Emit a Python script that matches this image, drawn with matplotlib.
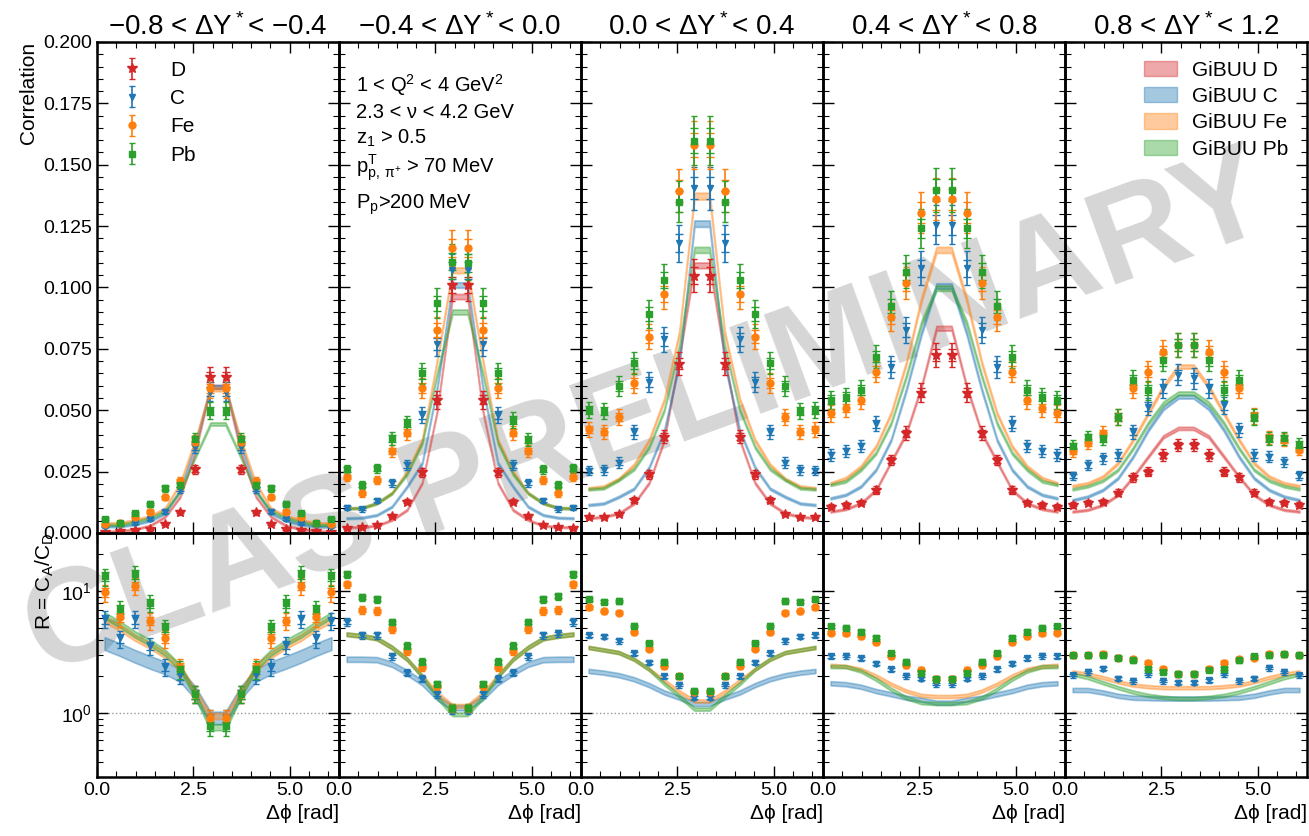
import numpy as np
import matplotlib
matplotlib.use("Agg")
import matplotlib.pyplot as plt
from matplotlib.patches import Patch
from matplotlib.ticker import MultipleLocator, FormatStrFormatter, LogLocator

plt.rcParams['font.family'] = ['Liberation Sans', 'DejaVu Sans']
plt.rcParams['mathtext.default'] = 'regular'

# ---- data ----
titles = ["−0.8 < ΔY$^*$< −0.4", "−0.4 < ΔY$^*$< 0.0", "0.0 < ΔY$^*$< 0.4",
          "0.4 < ΔY$^*$< 0.8", "0.8 < ΔY$^*$< 1.2"]
species = ["D", "C", "Fe", "Pb"]
colors = {"D": "#d62728", "C": "#1f77b4", "Fe": "#ff7f0e", "Pb": "#2ca02c"}
markers = {"D": "*", "C": "v", "Fe": "o", "Pb": "s"}
msizes = {"D": 7, "C": 5, "Fe": 5, "Pb": 4.5}

n_bins = 16

corr_D = [
    [0.0005, 0.0010, 0.0012, 0.0016, 0.0037, 0.0084, 0.0259, 0.0634, 0.0634, 0.0259, 0.0084, 0.0037, 0.0016, 0.0012, 0.0010, 0.0005],
    [0.0019, 0.0023, 0.0033, 0.0069, 0.0128, 0.0247, 0.0542, 0.1010, 0.1010, 0.0542, 0.0247, 0.0128, 0.0069, 0.0033, 0.0023, 0.0019],
    [0.0066, 0.0066, 0.0076, 0.0134, 0.0240, 0.0392, 0.0690, 0.1048, 0.1048, 0.0690, 0.0392, 0.0240, 0.0134, 0.0076, 0.0066, 0.0066],
    [0.0107, 0.0114, 0.0124, 0.0175, 0.0297, 0.0406, 0.0572, 0.0725, 0.0725, 0.0572, 0.0406, 0.0297, 0.0175, 0.0124, 0.0114, 0.0107],
    [0.0114, 0.0124, 0.0128, 0.0164, 0.0227, 0.0250, 0.0318, 0.0358, 0.0358, 0.0318, 0.0250, 0.0227, 0.0164, 0.0128, 0.0124, 0.0114],
]
corr_C = [
    [0.0026, 0.0033, 0.0040, 0.0056, 0.0087, 0.0178, 0.0349, 0.0576, 0.0576, 0.0349, 0.0178, 0.0087, 0.0056, 0.0040, 0.0033, 0.0026],
    [0.0103, 0.0097, 0.0132, 0.0202, 0.0277, 0.0480, 0.0770, 0.1070, 0.1070, 0.0770, 0.0480, 0.0277, 0.0202, 0.0132, 0.0097, 0.0103],
    [0.0254, 0.0257, 0.0287, 0.0413, 0.0616, 0.0789, 0.1180, 0.1404, 0.1404, 0.1180, 0.0789, 0.0616, 0.0413, 0.0287, 0.0257, 0.0254],
    [0.0318, 0.0335, 0.0354, 0.0444, 0.0677, 0.0827, 0.1078, 0.1255, 0.1255, 0.1078, 0.0827, 0.0677, 0.0444, 0.0354, 0.0335, 0.0318],
    [0.0232, 0.0277, 0.0304, 0.0318, 0.0413, 0.0515, 0.0589, 0.0644, 0.0630, 0.0589, 0.0520, 0.0420, 0.0318, 0.0310, 0.0290, 0.0235],
]
corr_Fe = [
    [0.0037, 0.0040, 0.0064, 0.0087, 0.0145, 0.0213, 0.0372, 0.0589, 0.0589, 0.0372, 0.0213, 0.0145, 0.0087, 0.0064, 0.0040, 0.0037],
    [0.0229, 0.0162, 0.0216, 0.0335, 0.0409, 0.0590, 0.0827, 0.1160, 0.1160, 0.0827, 0.0590, 0.0409, 0.0335, 0.0216, 0.0162, 0.0229],
    [0.0422, 0.0413, 0.0471, 0.0610, 0.0800, 0.0974, 0.1394, 0.1580, 0.1580, 0.1394, 0.0974, 0.0800, 0.0610, 0.0471, 0.0413, 0.0422],
    [0.0487, 0.0508, 0.0542, 0.0657, 0.0881, 0.1017, 0.1305, 0.1359, 0.1359, 0.1305, 0.1017, 0.0881, 0.0657, 0.0542, 0.0508, 0.0487],
    [0.0335, 0.0368, 0.0406, 0.0471, 0.0589, 0.0657, 0.0739, 0.0766, 0.0766, 0.0739, 0.0657, 0.0589, 0.0475, 0.0390, 0.0380, 0.0340],
]
corr_Pb = [
    [0.0056, 0.0040, 0.0080, 0.0118, 0.0182, 0.0196, 0.0382, 0.0498, 0.0498, 0.0382, 0.0196, 0.0182, 0.0118, 0.0080, 0.0040, 0.0056],
    [0.0259, 0.0196, 0.0263, 0.0386, 0.0447, 0.0650, 0.0936, 0.1105, 0.1100, 0.0936, 0.0650, 0.0460, 0.0380, 0.0259, 0.0195, 0.0263],
    [0.0501, 0.0497, 0.0599, 0.0691, 0.0892, 0.1030, 0.1350, 0.1598, 0.1598, 0.1350, 0.1030, 0.0892, 0.0691, 0.0599, 0.0497, 0.0501],
    [0.0542, 0.0555, 0.0583, 0.0718, 0.0925, 0.1065, 0.1241, 0.1397, 0.1397, 0.1241, 0.1065, 0.0925, 0.0718, 0.0583, 0.0555, 0.0542],
    [0.0354, 0.0390, 0.0386, 0.0474, 0.0623, 0.0582, 0.0705, 0.0766, 0.0766, 0.0705, 0.0582, 0.0623, 0.0474, 0.0386, 0.0386, 0.0360],
]

# GiBUU model correlation
mod_D = [
    [0.0005, 0.0008, 0.0015, 0.0030, 0.0066, 0.0148, 0.0330, 0.0595, 0.0595, 0.0330, 0.0148, 0.0066, 0.0030, 0.0015, 0.0008, 0.0005],
    [0.0023, 0.0024, 0.0030, 0.0053, 0.0094, 0.0204, 0.0500, 0.0963, 0.0963, 0.0500, 0.0204, 0.0094, 0.0053, 0.0030, 0.0024, 0.0023],
    [0.0060, 0.0066, 0.0080, 0.0120, 0.0204, 0.0378, 0.0717, 0.1090, 0.1090, 0.0717, 0.0378, 0.0204, 0.0120, 0.0080, 0.0066, 0.0060],
    [0.0087, 0.0097, 0.0121, 0.0175, 0.0290, 0.0406, 0.0595, 0.0834, 0.0834, 0.0595, 0.0406, 0.0290, 0.0175, 0.0121, 0.0097, 0.0087],
    [0.0087, 0.0094, 0.0114, 0.0155, 0.0229, 0.0311, 0.0392, 0.0426, 0.0426, 0.0392, 0.0311, 0.0229, 0.0155, 0.0114, 0.0094, 0.0087],
]
mod_C = [
    [0.0027, 0.0027, 0.0035, 0.0050, 0.0080, 0.0175, 0.0360, 0.0595, 0.0595, 0.0360, 0.0175, 0.0080, 0.0050, 0.0035, 0.0027, 0.0027],
    [0.0060, 0.0062, 0.0073, 0.0107, 0.0189, 0.0285, 0.0595, 0.1010, 0.1010, 0.0595, 0.0285, 0.0189, 0.0107, 0.0073, 0.0062, 0.0060],
    [0.0114, 0.0120, 0.0147, 0.0180, 0.0267, 0.0416, 0.0690, 0.1260, 0.1260, 0.0690, 0.0416, 0.0267, 0.0180, 0.0147, 0.0120, 0.0114],
    [0.0141, 0.0155, 0.0189, 0.0257, 0.0379, 0.0582, 0.0813, 0.1006, 0.1006, 0.0813, 0.0582, 0.0379, 0.0257, 0.0189, 0.0155, 0.0141],
    [0.0134, 0.0148, 0.0175, 0.0223, 0.0311, 0.0420, 0.0508, 0.0555, 0.0555, 0.0508, 0.0420, 0.0311, 0.0223, 0.0175, 0.0148, 0.0134],
]
mod_Fe = [
    [0.0040, 0.0040, 0.0053, 0.0068, 0.0100, 0.0202, 0.0379, 0.0585, 0.0585, 0.0379, 0.0202, 0.0100, 0.0068, 0.0053, 0.0040, 0.0040],
    [0.0100, 0.0102, 0.0121, 0.0162, 0.0250, 0.0379, 0.0705, 0.1070, 0.1070, 0.0705, 0.0379, 0.0250, 0.0162, 0.0121, 0.0102, 0.0100],
    [0.0182, 0.0189, 0.0220, 0.0277, 0.0378, 0.0542, 0.0815, 0.1372, 0.1372, 0.0815, 0.0542, 0.0378, 0.0277, 0.0220, 0.0189, 0.0182],
    [0.0202, 0.0223, 0.0270, 0.0352, 0.0487, 0.0691, 0.0949, 0.1153, 0.1153, 0.0949, 0.0691, 0.0487, 0.0352, 0.0270, 0.0223, 0.0202],
    [0.0191, 0.0202, 0.0229, 0.0284, 0.0379, 0.0487, 0.0596, 0.0678, 0.0678, 0.0596, 0.0487, 0.0379, 0.0284, 0.0229, 0.0202, 0.0191],
]
mod_Pb = [
    [0.0033, 0.0033, 0.0045, 0.0060, 0.0090, 0.0168, 0.0310, 0.0444, 0.0444, 0.0310, 0.0168, 0.0090, 0.0060, 0.0045, 0.0033, 0.0033],
    [0.0100, 0.0102, 0.0121, 0.0162, 0.0240, 0.0367, 0.0650, 0.0900, 0.0900, 0.0650, 0.0367, 0.0240, 0.0162, 0.0121, 0.0102, 0.0100],
    [0.0178, 0.0182, 0.0216, 0.0260, 0.0350, 0.0500, 0.0760, 0.1153, 0.1153, 0.0760, 0.0500, 0.0350, 0.0260, 0.0216, 0.0182, 0.0178],
    [0.0196, 0.0210, 0.0257, 0.0325, 0.0447, 0.0637, 0.0854, 0.0997, 0.0997, 0.0854, 0.0637, 0.0447, 0.0325, 0.0257, 0.0210, 0.0196],
    [0.0178, 0.0190, 0.0213, 0.0257, 0.0345, 0.0447, 0.0528, 0.0569, 0.0569, 0.0528, 0.0447, 0.0345, 0.0257, 0.0213, 0.0190, 0.0178],
]

# ratio R = C_A / C_D (data)
ratio_C = [
    [5.89, 4.10, 5.89, 3.56, 2.40, 2.05, 1.43, 0.92, 0.92, 1.43, 2.05, 2.40, 3.65, 5.89, 4.10, 5.70],
    [5.60, 4.36, 4.36, 2.92, 2.15, 1.92, 1.43, 1.06, 1.06, 1.43, 1.92, 2.15, 2.92, 4.36, 4.50, 5.60],
    [4.36, 4.25, 3.92, 3.10, 2.60, 2.00, 1.70, 1.34, 1.34, 1.70, 2.00, 2.60, 3.10, 3.92, 4.25, 4.36],
    [2.92, 2.95, 2.82, 2.55, 2.29, 2.02, 1.92, 1.73, 1.73, 1.92, 2.02, 2.29, 2.55, 2.82, 2.95, 2.92],
    [2.05, 2.18, 2.32, 1.92, 1.84, 2.09, 1.84, 1.78, 1.78, 1.86, 2.09, 1.84, 1.92, 2.35, 2.18, 2.05],
]
ratio_Fe = [
    [9.76, 6.09, 11.05, 5.71, 4.10, 2.40, 1.43, 0.92, 0.92, 1.43, 2.40, 4.10, 5.71, 11.05, 6.09, 9.76],
    [11.4, 7.03, 6.90, 4.88, 3.24, 2.37, 1.66, 1.11, 1.11, 1.66, 2.37, 3.24, 4.88, 6.90, 7.03, 11.4],
    [7.35, 6.90, 6.68, 4.64, 3.39, 2.44, 2.00, 1.50, 1.50, 2.00, 2.44, 3.39, 4.64, 6.68, 6.90, 7.35],
    [4.58, 4.50, 4.30, 3.84, 2.95, 2.49, 2.26, 1.92, 1.92, 2.26, 2.49, 2.95, 3.84, 4.30, 4.50, 4.58],
    [2.99, 2.99, 3.08, 2.86, 2.77, 2.60, 2.32, 2.09, 2.09, 2.32, 2.60, 2.77, 2.86, 3.08, 3.05, 2.99],
]
ratio_Pb = [
    [13.2, 7.12, 13.8, 7.97, 5.04, 2.29, 1.43, 0.78, 0.78, 1.43, 2.29, 5.04, 7.97, 13.8, 7.12, 13.2],
    [13.8, 8.88, 8.60, 5.54, 3.56, 2.63, 1.73, 1.11, 1.11, 1.73, 2.63, 3.56, 5.54, 8.60, 9.10, 13.8],
    [8.60, 8.23, 8.30, 5.20, 3.75, 2.63, 2.00, 1.52, 1.52, 2.00, 2.63, 3.75, 5.20, 8.30, 8.23, 8.60],
    [5.14, 5.00, 4.67, 4.17, 3.10, 2.63, 2.15, 1.92, 1.92, 2.15, 2.63, 3.10, 4.17, 4.67, 5.00, 5.14],
    [2.99, 2.99, 2.99, 2.86, 2.73, 2.32, 2.19, 2.11, 2.11, 2.28, 2.32, 2.73, 2.92, 2.99, 3.05, 2.99],
]

# ratio from GiBUU
mrat_C = [
    [3.75, 3.35, 2.95, 2.63, 2.37, 2.05, 1.48, 0.92, 0.92, 1.48, 2.05, 2.37, 2.63, 2.95, 3.35, 3.75],
    [2.77, 2.77, 2.75, 2.52, 2.15, 1.78, 1.34, 1.11, 1.11, 1.34, 1.78, 2.15, 2.52, 2.75, 2.77, 2.77],
    [2.22, 2.15, 2.05, 1.90, 1.70, 1.48, 1.34, 1.19, 1.19, 1.34, 1.48, 1.70, 1.90, 2.05, 2.15, 2.22],
    [1.76, 1.73, 1.65, 1.52, 1.43, 1.34, 1.29, 1.22, 1.22, 1.29, 1.34, 1.43, 1.52, 1.65, 1.73, 1.76],
    [1.55, 1.55, 1.48, 1.39, 1.34, 1.33, 1.32, 1.32, 1.32, 1.32, 1.33, 1.34, 1.39, 1.48, 1.55, 1.55],
]
mrat_Fe = [
    [5.90, 5.06, 4.17, 3.60, 3.00, 2.37, 1.48, 0.95, 0.95, 1.48, 2.37, 3.00, 3.60, 4.17, 5.06, 5.90],
    [4.44, 4.30, 4.10, 3.46, 2.77, 2.02, 1.45, 1.15, 1.15, 1.45, 2.02, 2.77, 3.46, 4.10, 4.30, 4.44],
    [3.46, 3.30, 3.14, 2.77, 2.29, 1.85, 1.50, 1.26, 1.26, 1.50, 1.85, 2.29, 2.77, 3.14, 3.30, 3.46],
    [2.47, 2.42, 2.29, 2.02, 1.73, 1.52, 1.40, 1.37, 1.37, 1.40, 1.52, 1.73, 2.02, 2.29, 2.42, 2.47],
    [2.18, 2.09, 1.96, 1.81, 1.70, 1.65, 1.62, 1.62, 1.62, 1.62, 1.65, 1.70, 1.81, 1.96, 2.09, 2.18],
]
mrat_Pb = [
    [6.35, 5.37, 4.44, 3.80, 3.14, 2.37, 1.40, 0.77, 0.77, 1.40, 2.37, 3.14, 3.80, 4.44, 5.37, 6.35],
    [4.44, 4.30, 4.10, 3.46, 2.77, 2.00, 1.35, 0.98, 0.98, 1.35, 2.00, 2.77, 3.46, 4.10, 4.30, 4.44],
    [3.46, 3.30, 3.14, 2.77, 2.29, 1.75, 1.38, 1.08, 1.08, 1.38, 1.75, 2.29, 2.77, 3.14, 3.30, 3.46],
    [2.41, 2.41, 2.22, 1.90, 1.57, 1.34, 1.22, 1.20, 1.20, 1.22, 1.34, 1.57, 1.90, 2.22, 2.41, 2.41],
    [2.09, 1.96, 1.78, 1.62, 1.49, 1.40, 1.35, 1.32, 1.32, 1.35, 1.40, 1.49, 1.62, 1.78, 1.96, 2.09],
]

# relative uncertainties
corr_relerr = 0.06
ratio_relerr = [0.16, 0.07, 0.05, 0.05, 0.05]
band_rel_top = 0.008
band_rel_ratio = {"C": [0.12, 0.05, 0.04, 0.04, 0.04],
                  "Fe": [0.06, 0.035, 0.03, 0.03, 0.03],
                  "Pb": [0.06, 0.035, 0.03, 0.03, 0.03]}

cut_lines = ["1 < Q$^2$ < 4 GeV$^2$", "2.3 < ν < 4.2 GeV", "z$_1$ > 0.5",
             "p$^{T}_{p,\\,π^{+}}$ > 70 MeV", "P$_p$>200 MeV"]

corr = {"D": corr_D, "C": corr_C, "Fe": corr_Fe, "Pb": corr_Pb}
model = {"D": mod_D, "C": mod_C, "Fe": mod_Fe, "Pb": mod_Pb}
ratio = {"C": ratio_C, "Fe": ratio_Fe, "Pb": ratio_Pb}
mratio = {"C": mrat_C, "Fe": mrat_Fe, "Pb": mrat_Pb}

edges = np.linspace(0, 2 * np.pi, n_bins + 1)
phi = 0.5 * (edges[1:] + edges[:-1])

# ---- figure ----
fig, axes = plt.subplots(2, 5, figsize=(13.09, 8.36), dpi=100, sharex=True, sharey='row',
                         gridspec_kw=dict(height_ratios=[491, 244], hspace=0, wspace=0))
fig.subplots_adjust(left=0.0741, right=0.9985, top=0.9498, bottom=0.0706)

fig.text(0.495, 0.50, "CLAS PRELIMINARY", fontsize=96, fontweight='bold', color='0.84',
         rotation=20, ha='center', va='center', zorder=-1)

data_handles = {}
for j in range(5):
    ax = axes[0, j]
    axr = axes[1, j]
    for a in (ax, axr):
        a.set_facecolor('none')
        for s in a.spines.values():
            s.set_linewidth(1.8)
        a.tick_params(which='both', direction='in', top=True, right=True, labelsize=14)
        a.tick_params(which='major', length=8, width=1.0)
        a.tick_params(which='minor', length=4.5, width=0.8)

    # model bands (top)
    for sp in species:
        m = np.array(model[sp][j])
        hw = band_rel_top * m + 0.0003
        ax.fill_between(phi, m - hw, m + hw, color=colors[sp], alpha=0.4, lw=1.3, zorder=2)
    # data (top)
    for sp in species:
        v = np.array(corr[sp][j])
        err = corr_relerr * v + 0.0004
        h = ax.errorbar(phi, v, yerr=err, fmt=markers[sp], color=colors[sp], ms=msizes[sp],
                        capsize=2.5, elinewidth=1.2, capthick=1.0, label=sp, zorder=4)
        ax.errorbar(phi, v, yerr=0.5 * err, fmt='none', ecolor=colors[sp], capsize=3,
                    elinewidth=1.2, capthick=1.0, zorder=4)
        data_handles[sp] = h

    # ratio panel
    axr.axhline(1.0, color='0.6', ls=':', lw=1.0, zorder=1)
    for sp in ["C", "Fe", "Pb"]:
        m = np.array(mratio[sp][j])
        hw = band_rel_ratio[sp][j]
        axr.fill_between(phi, m * (1 - hw), m * (1 + hw), color=colors[sp], alpha=0.4, lw=1.2, zorder=2)
    for sp in ["C", "Fe", "Pb"]:
        v = np.array(ratio[sp][j])
        err = ratio_relerr[j] * v
        axr.errorbar(phi, v, yerr=err, fmt=markers[sp], color=colors[sp], ms=msizes[sp],
                     capsize=2.5, elinewidth=1.2, capthick=1.0, zorder=4)
        axr.errorbar(phi, v, yerr=0.5 * err, fmt='none', ecolor=colors[sp], capsize=3,
                     elinewidth=1.2, capthick=1.0, zorder=4)

    ax.set_title(titles[j], fontsize=20, pad=5)
    axr.set_xlabel("Δϕ [rad]", fontsize=15, loc='right')

axes[0, 0].set_xlim(0, 2 * np.pi)
axes[0, 0].xaxis.set_major_locator(MultipleLocator(2.5))
axes[0, 0].xaxis.set_minor_locator(MultipleLocator(0.5))
axes[0, 0].xaxis.set_major_formatter(FormatStrFormatter('%.1f'))

axes[0, 0].set_ylim(0, 0.2)
axes[0, 0].yaxis.set_major_locator(MultipleLocator(0.025))
axes[0, 0].yaxis.set_minor_locator(MultipleLocator(0.005))
axes[0, 0].yaxis.set_major_formatter(FormatStrFormatter('%.3f'))
axes[0, 0].set_ylabel("Correlation", fontsize=15, loc='top')

axes[1, 0].set_yscale('log')
axes[1, 0].set_ylim(0.3, 30)
axes[1, 0].yaxis.set_minor_locator(LogLocator(subs=np.arange(2, 10)))
axes[1, 0].set_ylabel("R = C$_A$/C$_D$", fontsize=15, loc='top')

# legends
axes[0, 0].legend([data_handles[s] for s in species], species, loc='upper left', frameon=False,
                  fontsize=15, handlelength=1.6, handletextpad=1.0, labelspacing=0.45)
patches = [Patch(facecolor=colors[s], edgecolor=colors[s], alpha=0.4) for s in species]
axes[0, 4].legend(patches, ["GiBUU " + s for s in species], loc='upper right', frameon=False,
                  fontsize=15, handlelength=1.6, handleheight=0.75, handletextpad=0.7,
                  labelspacing=0.35)

ypos = [0.912, 0.857, 0.804, 0.743, 0.668]
for s, y in zip(cut_lines, ypos):
    axes[0, 1].text(0.07, y, s, transform=axes[0, 1].transAxes, fontsize=14.5, va='center')

fig.savefig("out.png", dpi=100)
